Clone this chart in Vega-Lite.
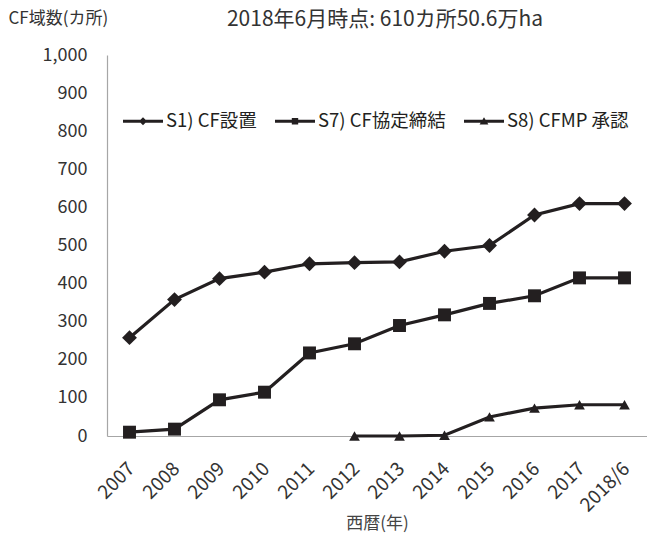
{
  "$schema": "https://vega.github.io/schema/vega-lite/v6.json",
  "width": 540,
  "height": 381,
  "autosize": {"type": "none"},
  "padding": {"left": 107, "top": 55, "right": 0, "bottom": 105},
  "background": "white",
  "title": {
    "text": "2018年6月時点: 610カ所50.6万ha",
    "font": "Noto Sans CJK JP",
    "fontSize": 21,
    "fontWeight": "normal",
    "color": "#333333",
    "anchor": "middle",
    "offset": -21,
    "dx": 8
  },
  "data": {
    "values": [
      {"year": "2007", "series": "S1) CF設置", "value": 258},
      {"year": "2008", "series": "S1) CF設置", "value": 358},
      {"year": "2009", "series": "S1) CF設置", "value": 413},
      {"year": "2010", "series": "S1) CF設置", "value": 430},
      {"year": "2011", "series": "S1) CF設置", "value": 452},
      {"year": "2012", "series": "S1) CF設置", "value": 455},
      {"year": "2013", "series": "S1) CF設置", "value": 457},
      {"year": "2014", "series": "S1) CF設置", "value": 485},
      {"year": "2015", "series": "S1) CF設置", "value": 500},
      {"year": "2016", "series": "S1) CF設置", "value": 580},
      {"year": "2017", "series": "S1) CF設置", "value": 610},
      {"year": "2018/6", "series": "S1) CF設置", "value": 610},
      {"year": "2007", "series": "S7) CF協定締結", "value": 10},
      {"year": "2008", "series": "S7) CF協定締結", "value": 18},
      {"year": "2009", "series": "S7) CF協定締結", "value": 95},
      {"year": "2010", "series": "S7) CF協定締結", "value": 115},
      {"year": "2011", "series": "S7) CF協定締結", "value": 218},
      {"year": "2012", "series": "S7) CF協定締結", "value": 242},
      {"year": "2013", "series": "S7) CF協定締結", "value": 290},
      {"year": "2014", "series": "S7) CF協定締結", "value": 318},
      {"year": "2015", "series": "S7) CF協定締結", "value": 348},
      {"year": "2016", "series": "S7) CF協定締結", "value": 368},
      {"year": "2017", "series": "S7) CF協定締結", "value": 415},
      {"year": "2018/6", "series": "S7) CF協定締結", "value": 415},
      {"year": "2012", "series": "S8) CFMP 承認", "value": 0},
      {"year": "2013", "series": "S8) CFMP 承認", "value": 0},
      {"year": "2014", "series": "S8) CFMP 承認", "value": 2},
      {"year": "2015", "series": "S8) CFMP 承認", "value": 50},
      {"year": "2016", "series": "S8) CFMP 承認", "value": 73},
      {"year": "2017", "series": "S8) CFMP 承認", "value": 82},
      {"year": "2018/6", "series": "S8) CFMP 承認", "value": 82}
    ]
  },
  "encoding": {
    "x": {
      "field": "year",
      "type": "ordinal",
      "sort": ["2007","2008","2009","2010","2011","2012","2013","2014","2015","2016","2017","2018/6"],
      "scale": {"type": "point", "padding": 0.5},
      "axis": {
        "labelAngle": -45,
        "labelFont": "Noto Sans CJK JP",
        "labelFontSize": 19,
        "labelColor": "#333333",
        "labelPadding": 23,
        "labelOffset": -5,
        "ticks": false,
        "domainColor": "#a6a6a6",
        "domainWidth": 1.2,
        "title": "西暦(年)",
        "titleFont": "Noto Sans CJK JP",
        "titleFontSize": 17,
        "titleFontWeight": "normal",
        "titleColor": "#444444",
        "titleY": 87,
        "titleBaseline": "middle"
      }
    },
    "y": {
      "field": "value",
      "type": "quantitative",
      "scale": {"domain": [0, 1000], "nice": false},
      "axis": {
        "values": [0,100,200,300,400,500,600,700,800,900,1000],
        "format": ",d",
        "grid": false,
        "ticks": false,
        "labelFont": "Noto Sans CJK JP",
        "labelFontSize": 18,
        "labelColor": "#333333",
        "labelPadding": 20,
        "domainColor": "#a6a6a6",
        "domainWidth": 1.2,
        "title": "CF域数(カ所)",
        "titleAngle": 0,
        "titleAlign": "left",
        "titleBaseline": "middle",
        "titleX": -99,
        "titleY": -37,
        "titleFont": "Noto Sans CJK JP",
        "titleFontSize": 17,
        "titleFontWeight": "normal",
        "titleColor": "#333333"
      }
    }
  },
  "layer": [
    {
      "mark": {"type": "line", "color": "#231f20", "strokeWidth": 3.2},
      "encoding": {"detail": {"field": "series", "type": "nominal"}}
    },
    {
      "mark": {"type": "point", "filled": true, "color": "#231f20", "opacity": 1},
      "encoding": {
        "shape": {
          "field": "series",
          "type": "nominal",
          "scale": {"domain": ["S1) CF設置", "S7) CF協定締結", "S8) CFMP 承認"], "range": ["diamond", "square", "triangle-up"]},
          "legend": null
        },
        "size": {
          "field": "series",
          "type": "nominal",
          "scale": {"domain": ["S1) CF設置", "S7) CF協定締結", "S8) CFMP 承認"], "range": [220, 115, 210]},
          "legend": null
        }
      }
    },
    {
      "transform": [{"filter": "datum.value < 0"}],
      "mark": {"type": "point", "filled": true, "color": "#231f20"},
      "encoding": {
        "shape": {
          "field": "series",
          "type": "nominal",
          "scale": {
            "domain": ["S1) CF設置", "S7) CF協定締結", "S8) CFMP 承認"],
            "range": [
              "M-1,-0.07L1,-0.07L1,0.07L-1,0.07Z M0,-0.2L0.2,0L0,0.2L-0.2,0Z",
              "M-1,-0.07L1,-0.07L1,0.07L-1,0.07Z M-0.16,-0.16L0.16,-0.16L0.16,0.16L-0.16,0.16Z",
              "M-1,-0.07L1,-0.07L1,0.07L-1,0.07Z M0,-0.2L0.22,0.16L-0.22,0.16Z"
            ]
          },
          "legend": {
            "orient": "none",
            "legendX": 16,
            "legendY": 46,
            "direction": "horizontal",
            "title": null,
            "symbolSize": 1600,
            "symbolFillColor": "#231f20",
            "symbolStrokeWidth": 0,
            "symbolOpacity": 1,
            "labelFont": "Noto Sans CJK JP",
            "labelFontSize": 18.5,
            "labelColor": "#231f20",
            "labelOffset": 3,
            "columnPadding": 18,
            "labelLimit": 300
          }
        }
      }
    }
  ],
  "resolve": {"scale": {"shape": "independent", "size": "independent"}},
  "config": {
    "view": {"stroke": null},
    "font": "Noto Sans CJK JP"
  }
}
